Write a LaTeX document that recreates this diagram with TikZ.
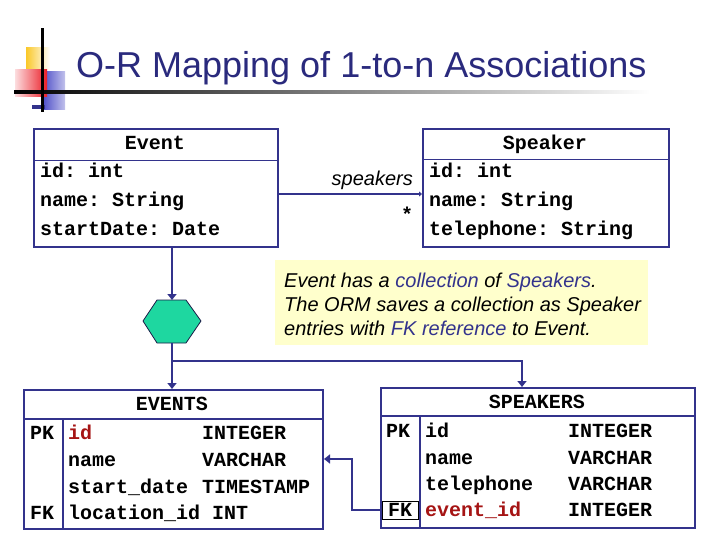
\documentclass[tikz,border=0pt]{standalone}
\usepackage{fontspec}
\setmainfont{Liberation Sans}
\setmonofont{Liberation Mono}
\usetikzlibrary{arrows.meta,calc}
\definecolor{navy}{RGB}{51,51,140}
\definecolor{titleblue}{RGB}{42,42,125}
\definecolor{hexfill}{RGB}{30,215,160}
\definecolor{noteyellow}{RGB}{255,255,204}
\definecolor{darkred}{RGB}{165,20,20}
\definecolor{logoyellow}{RGB}{250,200,40}
\definecolor{logored}{RGB}{235,30,40}
\definecolor{logoblue}{RGB}{80,80,200}
\begin{document}
\begin{tikzpicture}[x=1pt,y=-1pt,
  box/.style={draw=navy, line width=2pt, inner sep=0pt, anchor=north west},
  sepline/.style={draw=navy, line width=1pt},
  mono/.style={font=\fontsize{20}{24}\selectfont\ttfamily\bfseries, inner sep=0pt, anchor=base west},
  monoc/.style={mono, anchor=base},
  note/.style={font=\fontsize{20}{24}\selectfont\itshape, inner sep=0pt, anchor=base west},
  hl/.style={text=navy},
  conn/.style={draw=navy, line width=2pt, -{Triangle[width=9pt,length=6pt]}},
  assoc/.style={draw=navy, line width=2pt, -{Triangle[width=5pt,length=3pt]}}
]
\useasboundingbox (0,0) rectangle (720,540);

% ---- logo ----
\fill[left color=logoyellow, right color=white] (26,48) rectangle (50,70);
\fill[left color=logoblue, right color=logoblue!35!white] (43,72) rectangle (65,110);
\fill[left color=logored!15!white, right color=logored] (15,70) rectangle (47,97);
\fill[navy] (32,105) rectangle (45,109);
\fill[left color=black, right color=white] (14,90.5) rectangle (650,93.5);
\fill[black] (40.5,28) rectangle (43.5,112);

% ---- title ----
\node[anchor=base west, inner sep=0pt, text=titleblue,
      font=\fontsize{36}{40}\selectfont] (title) at (76,78) {O-R Mapping of 1-to-n Associations};

% ---- UML class Event ----
\node[box, minimum width=244pt, minimum height=118pt] (event) at (33,128) {};
\draw[sepline] (event.west |- 0,161) -- (event.east |- 0,161);
\node[monoc] (evname) at (155,150) {Event};
\node[mono] (ev1) at (40,178) {id: int};
\node[mono] (ev2) at (40,207) {name: String};
\node[mono] (ev3) at (40,236) {startDate: Date};

% ---- UML class Speaker ----
\node[box, minimum width=246pt, minimum height=118pt] (speaker) at (422,128) {};
\draw[sepline] (speaker.west |- 0,160) -- (speaker.east |- 0,160);
\node[monoc] (spname) at (545,150) {Speaker};
\node[mono] (sp1) at (429,178) {id: int};
\node[mono] (sp2) at (429,207) {name: String};
\node[mono] (sp3) at (429,236) {telephone: String};

% ---- association ----
\coordinate (assocy) at (0,194);
\draw[assoc] (event.east |- assocy) -- (speaker.west |- assocy);
\node[note, anchor=base east] (rolename) at (413,186) {speakers};
\node[font=\fontsize{20}{24}\selectfont\ttfamily\bfseries, inner sep=0pt, anchor=base] (mult) at (407,222) {*};

% ---- note ----
\node[fill=noteyellow, inner sep=0pt, minimum width=373pt, minimum height=85pt, anchor=north west] (notebox) at (275,260) {};
\node[note] (n1) at (284,287) {Event has a \textcolor{navy}{collection} of \textcolor{navy}{Speakers}.};
\node[note] (n2) at (284,311) {The ORM saves a collection as Speaker};
\node[note] (n3) at (284,335) {entries with \textcolor{navy}{FK reference} to Event.};

% ---- hexagon ----
\coordinate (hextop) at (172,300);
\coordinate (hexbot) at (172,343);
\coordinate (branch) at (172,361);
\draw[draw=navy!50!black, fill=hexfill, line width=0.8pt]
  (143,321) -- (157,300) -- (186,300) -- (201,321) -- (186,343) -- (157,343) -- cycle;

% ---- table EVENTS ----
\node[box, minimum width=299pt, minimum height=139pt] (events) at (23,389) {};
\draw[sepline, line width=1.2pt] (events.west |- 0,419) -- (events.east |- 0,419);
\draw[sepline, line width=1.2pt] (63,419) -- (events.south -| 63,0);
\node[monoc] (evt) at (172,410) {EVENTS};
\node[mono] (e1k) at (30,439) {PK};
\node[mono, text=darkred] (e1a) at (68,439) {id};
\node[mono] (e1b) at (202,439) {INTEGER};
\node[mono] (e2a) at (68,466) {name};
\node[mono] (e2b) at (202,466) {VARCHAR};
\node[mono] (e3a) at (68,493) {start\_date};
\node[mono] (e3b) at (202,493) {TIMESTAMP};
\node[mono] (e4k) at (30,519) {FK};
\node[mono] (e4a) at (68,519) {location\_id INT};

% ---- table SPEAKERS ----
\node[box, minimum width=314pt, minimum height=140pt] (speakers) at (380,387) {};
\draw[sepline, line width=1.2pt] (speakers.west |- 0,416) -- (speakers.east |- 0,416);
\draw[sepline, line width=1.2pt] (420,416) -- (speakers.south -| 420,0);
\node[monoc] (spt) at (537,408) {SPEAKERS};
\node[mono] (s1k) at (386,437) {PK};
\node[mono] (s1a) at (425,437) {id};
\node[mono] (s1b) at (568,437) {INTEGER};
\node[mono] (s2a) at (425,464) {name};
\node[mono] (s2b) at (568,464) {VARCHAR};
\node[mono] (s3a) at (425,490) {telephone};
\node[mono] (s3b) at (568,490) {VARCHAR};
\node[draw=black, line width=0.8pt, minimum width=36pt, minimum height=18pt, inner sep=0pt,
      font=\fontsize{20}{24}\selectfont\ttfamily\bfseries] (fk) at (400,510) {FK};
\node[mono, text=darkred] (s4a) at (425,516) {event\_id};
\node[mono] (s4b) at (568,516) {INTEGER};

% ---- connectors ----
\draw[conn] (hextop |- event.south) -- (hextop);
\draw[conn] (hexbot) -- (hexbot |- events.north);
\draw[conn] (branch) -| (speakers.north -| 522,0);
\draw[conn] (fk.west) -- (352,510) |- (events.east |- 0,459);
\end{tikzpicture}
\end{document}
